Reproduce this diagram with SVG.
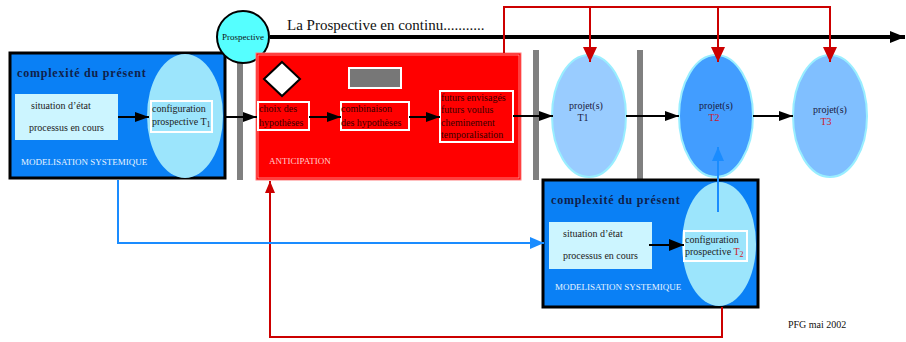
<svg xmlns="http://www.w3.org/2000/svg" width="906" height="342" viewBox="0 0 906 342">
<style>
text{font-family:"Liberation Serif","Times New Roman",serif;}
.bluebox{fill:#0a80f5;stroke:#000;stroke-width:3;}
.light{fill:#ccf5ff;}
.ell{fill:#9ce5fc;}
.cfg{fill:#9ce5fc;stroke:#fff;stroke-width:2;}
.title{font-size:12px;font-weight:bold;fill:#10204a;letter-spacing:0.8px;}
.t10{font-size:10px;fill:#222;}
.modl{font-size:9px;fill:#e8f4ff;}
.rt{font-size:10px;fill:#3a0000;}
.rbox{fill:#ff0000;stroke:#fff;stroke-width:2;}
.bar{fill:#808080;}
.proj{stroke:#99eeff;stroke-width:2;}
.pt{font-size:10px;fill:#1a1a40;}
.red{fill:#cc1a2a;}
.ln{fill:none;stroke:#000;stroke-width:2;}
.rl{fill:none;stroke:#cc0000;stroke-width:2;}
.bl{fill:none;stroke:#1a8cff;stroke-width:2;}
</style>
<defs>
<marker id="ab" markerUnits="userSpaceOnUse" markerWidth="16" markerHeight="12" refX="14" refY="6" orient="auto">
<path d="M0,1 L14,6 L0,11 Z" fill="#000"/>
</marker>
<marker id="ar" markerUnits="userSpaceOnUse" markerWidth="16" markerHeight="16" refX="15" refY="7" orient="auto">
<path d="M0,0 L15,7 L0,14 Z" fill="#cc0000"/>
</marker>
<marker id="ars" markerUnits="userSpaceOnUse" markerWidth="14" markerHeight="12" refX="12" refY="5" orient="auto">
<path d="M0,0 L12,5 L0,10 Z" fill="#cc0000"/>
</marker>
<marker id="abl" markerUnits="userSpaceOnUse" markerWidth="16" markerHeight="14" refX="14" refY="7" orient="auto">
<path d="M0,1 L14,7 L0,13 Z" fill="#1a8cff"/>
</marker>
<marker id="abig" markerUnits="userSpaceOnUse" markerWidth="16" markerHeight="14" refX="15" refY="7" orient="auto">
<path d="M0,1 L15,7 L0,13 Z" fill="#000"/>
</marker>
</defs>

<g id="grey-bars">
<rect class="bar" x="237" y="55" width="6" height="125"/>
<rect class="bar" x="533" y="50" width="6" height="130"/>
<rect class="bar" x="637" y="50" width="6" height="130"/>
</g>

<g id="timeline">
<line x1="270" y1="37" x2="905" y2="37" stroke="#000" stroke-width="4" marker-end="url(#abig)"/>
<text x="287" y="30" style="font-size:15px;fill:#111;">La Prospective en continu...........</text>
</g>

<g id="model1">
<rect class="bluebox" x="10" y="53" width="215" height="125"/>
<text class="title" x="17" y="77">complexité du présent</text>
<rect class="light" x="15" y="94" width="103" height="46"/>
<text class="t10" x="31" y="109">situation d’état</text>
<text class="t10" x="29" y="131">processus en cours</text>
<ellipse class="ell" cx="185" cy="116" rx="38" ry="62"/>
<rect class="cfg" x="151" y="101" width="61" height="31"/>
<text class="t10" x="152" y="112">configuration</text>
<text class="t10" x="152" y="125">prospective T<tspan font-size="8" dy="2">1</tspan></text>
<text class="modl" x="21" y="165">MODELISATION SYSTEMIQUE</text>
</g>

<g id="prospective">
<circle cx="243" cy="37" r="26" fill="#55ffff" stroke="#000" stroke-width="2"/>
<text x="243" y="40" text-anchor="middle" style="font-size:9px;fill:#111;">Prospective</text>
</g>

<g id="anticipation">
<rect x="256" y="53" width="265" height="127" fill="#ff0000" stroke="#ff8080" stroke-width="1"/>
<rect x="258" y="55" width="261" height="123" fill="#ff0000" stroke="#ffd0d0" stroke-width="0.6"/>
<polygon points="282,62 300,79 282,96 264,79" fill="#fff" stroke="#000" stroke-width="2"/>
<rect x="349" y="68" width="52" height="20" fill="#777" stroke="#fff" stroke-width="2"/>
<rect class="rbox" x="258" y="102" width="51" height="28"/>
<text class="rt" x="259" y="112">choix des</text>
<text class="rt" x="259" y="126">hypothèses</text>
<rect class="rbox" x="341" y="102" width="68" height="28"/>
<text class="rt" x="341" y="112">combinaison</text>
<text class="rt" x="341" y="126">des hypothèses</text>
<rect class="rbox" x="440" y="91" width="73" height="51"/>
<text class="rt" x="441" y="101">futurs envisagés</text>
<text class="rt" x="441" y="113">futurs voulus</text>
<text class="rt" x="441" y="126">cheminement</text>
<text class="rt" x="441" y="138">temporalisation</text>
<text x="269" y="164" style="font-size:9px;fill:#ffd0d0;">ANTICIPATION</text>
</g>

<g id="projet-t1">
<ellipse class="proj" cx="589" cy="116" rx="37" ry="61" fill="#99ccff"/>
<text class="pt" x="586" y="109" text-anchor="middle">projet(s)</text>
<text class="pt" x="583" y="121" text-anchor="middle">T1</text>
</g>
<g id="projet-t2">
<ellipse class="proj" cx="716" cy="116" rx="37" ry="61" fill="#429dff"/>
<text class="pt" x="716" y="109" text-anchor="middle">projet(s)</text>
<text class="red" x="714" y="121" text-anchor="middle" style="font-size:10px;">T2</text>
</g>
<g id="projet-t3">
<ellipse class="proj" cx="830" cy="116" rx="37" ry="61" fill="#80bfff"/>
<text class="pt" x="830" y="113" text-anchor="middle">projet(s)</text>
<text class="red" x="826" y="125" text-anchor="middle" style="font-size:10px;">T3</text>
</g>

<g id="model2">
<rect class="bluebox" x="543" y="180" width="215" height="127"/>
<text class="title" x="551" y="204">complexité du présent</text>
<rect class="light" x="549" y="222" width="103" height="47"/>
<text class="t10" x="563" y="237">situation d’état</text>
<text class="t10" x="563" y="259">processus en cours</text>
<ellipse class="ell" cx="719" cy="244" rx="37" ry="62"/>
<rect class="cfg" x="684" y="231" width="63" height="30"/>
<text class="t10" x="685" y="243">configuration</text>
<text class="t10" x="685" y="255">prospective <tspan fill="#cc1a2a">T<tspan font-size="8" dy="2">2</tspan></tspan></text>
<text class="modl" x="555" y="290">MODELISATION SYSTEMIQUE</text>
</g>

<text x="788" y="328" style="font-size:10px;fill:#111;">PFG mai 2002</text>

<g id="connectors">
<line class="ln" x1="118" y1="117" x2="149" y2="117" marker-end="url(#ab)"/>
<line class="ln" x1="224" y1="117" x2="257" y2="117" marker-end="url(#ab)"/>
<line class="ln" x1="309" y1="117" x2="341" y2="117" marker-end="url(#ab)"/>
<line class="ln" x1="409" y1="117" x2="440" y2="117" marker-end="url(#ab)"/>
<line class="ln" x1="513" y1="116" x2="553" y2="116" marker-end="url(#ab)"/>
<line class="ln" x1="626" y1="116" x2="679" y2="116" marker-end="url(#ab)"/>
<line class="ln" x1="753" y1="116" x2="793" y2="116" marker-end="url(#ab)"/>
<line class="ln" x1="649" y1="245" x2="684" y2="245" stroke-width="3" marker-end="url(#abig)"/>
<path class="rl" d="M504,53 V7 H830 V62" marker-end="url(#ar)"/>
<line class="rl" x1="590" y1="7" x2="590" y2="62" marker-end="url(#ar)"/>
<line class="rl" x1="718" y1="7" x2="718" y2="62" marker-end="url(#ar)"/>
<path class="rl" d="M722,307 V337 H270 V181" marker-end="url(#ars)"/>
<path class="bl" d="M118,180 V243 H544" marker-end="url(#abl)"/>
<line class="bl" x1="718" y1="212" x2="718" y2="147" marker-end="url(#abl)"/>
</g>
</svg>
